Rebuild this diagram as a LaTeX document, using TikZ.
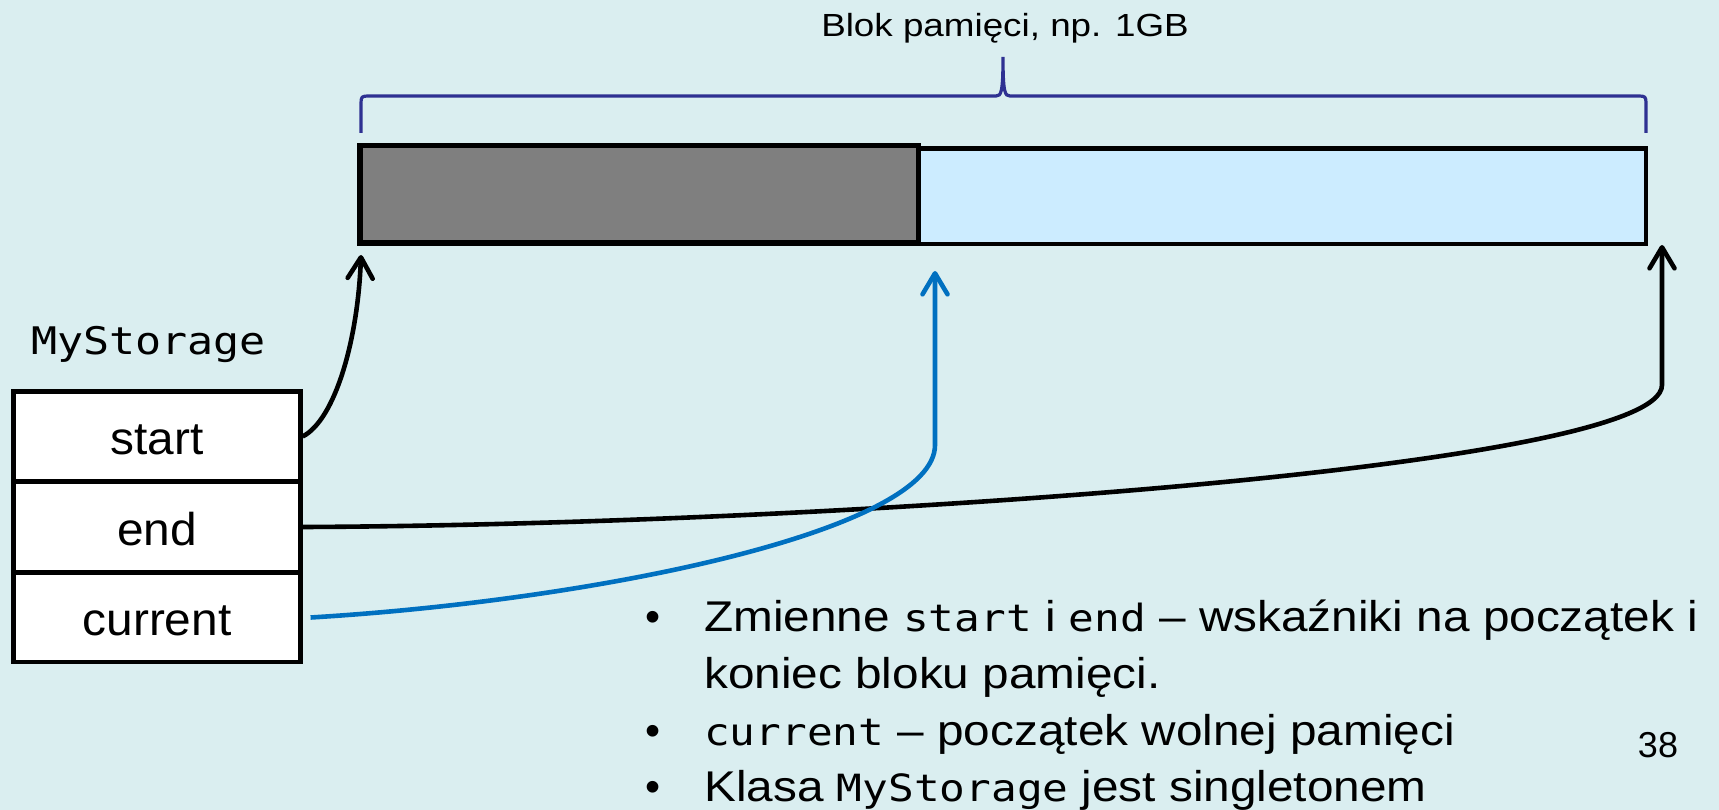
\documentclass[tikz,border=0pt]{standalone}
\usepackage{fontspec}
\usetikzlibrary{arrows.meta}
\newfontfamily\sansT[FakeStretch=1.15]{Liberation Sans}
\newfontfamily\sansB[FakeStretch=1.11]{Liberation Sans}
\newfontfamily\sansL[FakeStretch=1.04]{Liberation Sans}
\newfontfamily\sansN{Liberation Sans}
\newfontfamily\monoS[FakeStretch=1.14]{DejaVu Sans Mono}
\newcommand\mcode[1]{{\monoS\fontsize{37.5}{50}\selectfont #1}}
\definecolor{bgc}{RGB}{218,238,240}
\definecolor{usedc}{RGB}{127,127,127}
\definecolor{freec}{RGB}{204,236,255}
\definecolor{bracec}{RGB}{46,49,146}
\definecolor{curc}{RGB}{0,112,192}
\tikzset{
  blk/.style={draw=black, inner sep=0pt, outer sep=0pt},
  field/.style={draw=black, fill=white, line width=4.5pt, minimum width=286.7pt,
    inner sep=0pt, text height=36pt, text depth=0pt,
    font=\sansL\fontsize{46}{50}\selectfont},
  ptr/.style={line width=4.6pt, -{Straight Barb[length=21pt,width=25pt,round]}},
  bracepath/.style={draw=bracec, line width=3.2pt},
  bultxt/.style={anchor=base west, inner sep=0pt, font=\sansB\fontsize{43}{50}\selectfont},
  bulmark/.style={anchor=base, inner sep=0pt, font=\sansN\fontsize{43}{50}\selectfont}
}
\begin{document}
\begin{tikzpicture}[x=1pt,y=-1pt]
\useasboundingbox (0,0) rectangle (1719,810);
\fill[bgc] (0,0) rectangle (1719,810);

% title and brace
\node[anchor=base, inner sep=0pt, font=\sansT\fontsize{32}{40}\selectfont] (title) at (1005,37) {Blok pamięci, np. 1GB};
\draw[bracepath] (361,133) -- (361,103) .. controls (361,97) and (362,96) .. (368,96)
  -- (996,96) .. controls (1001,96) and (1003,93) .. (1003,57)
  .. controls (1003,93) and (1005,96) .. (1010,96)
  -- (1639,96) .. controls (1645,96) and (1646,97) .. (1646,103) -- (1646,133);

% memory block
\node[blk, fill=freec, line width=4.8pt, minimum width=727.5pt, minimum height=95.5pt] (free) at (1282.25,196.25) {};
\node[blk, fill=usedc, line width=5.5pt, minimum width=558.5pt, minimum height=97.5pt] (used) at (639.25,194.25) {};

% MyStorage
\node[anchor=base west, inner sep=0pt, font=\monoS\fontsize{38}{45}\selectfont] (cls) at (31,355) {MyStorage};
\node[field, minimum height=90pt] (fstart) at (157,436.5) {start};
\node[field, minimum height=91pt] (fend) at (157,527) {end};
\node[field, minimum height=89pt] (fcur) at (157,617.5) {current};

% pointer targets
\coordinate (ptrS) at (361,255);
\coordinate (ptrE) at (1662,245);
\coordinate (ptrC) at (935,271);

\draw[ptr] (fstart.east) .. controls (335,420) and (358,340) .. (ptrS);
\draw[ptr] (fend.east) .. controls (800,525) and (1662,470) .. (1662,385) -- (ptrE);
\draw[ptr, draw=curc] ([xshift=8pt]fcur.east) .. controls (600,600) and (935,530) .. (935,445) -- (ptrC);

% bullets
\node[bulmark] (b1) at (653,631) {•};
\node[bultxt] (l1) at (704,631) {Zmienne \mcode{start} i \mcode{end} – wskaźniki na początek i};
\node[bultxt] (l2) at (704,688) {koniec bloku pamięci.};
\node[bulmark] (b3) at (653,745) {•};
\node[bultxt] (l3) at (704,745) {\mcode{current} – początek wolnej pamięci};
\node[bulmark] (b4) at (653,801) {•};
\node[bultxt] (l4) at (704,801) {Klasa \mcode{MyStorage} jest singletonem};

% page number
\node[anchor=base, inner sep=0pt, font=\sansN\fontsize{36}{40}\selectfont] (pg) at (1658,757) {38};
\end{tikzpicture}
\end{document}
